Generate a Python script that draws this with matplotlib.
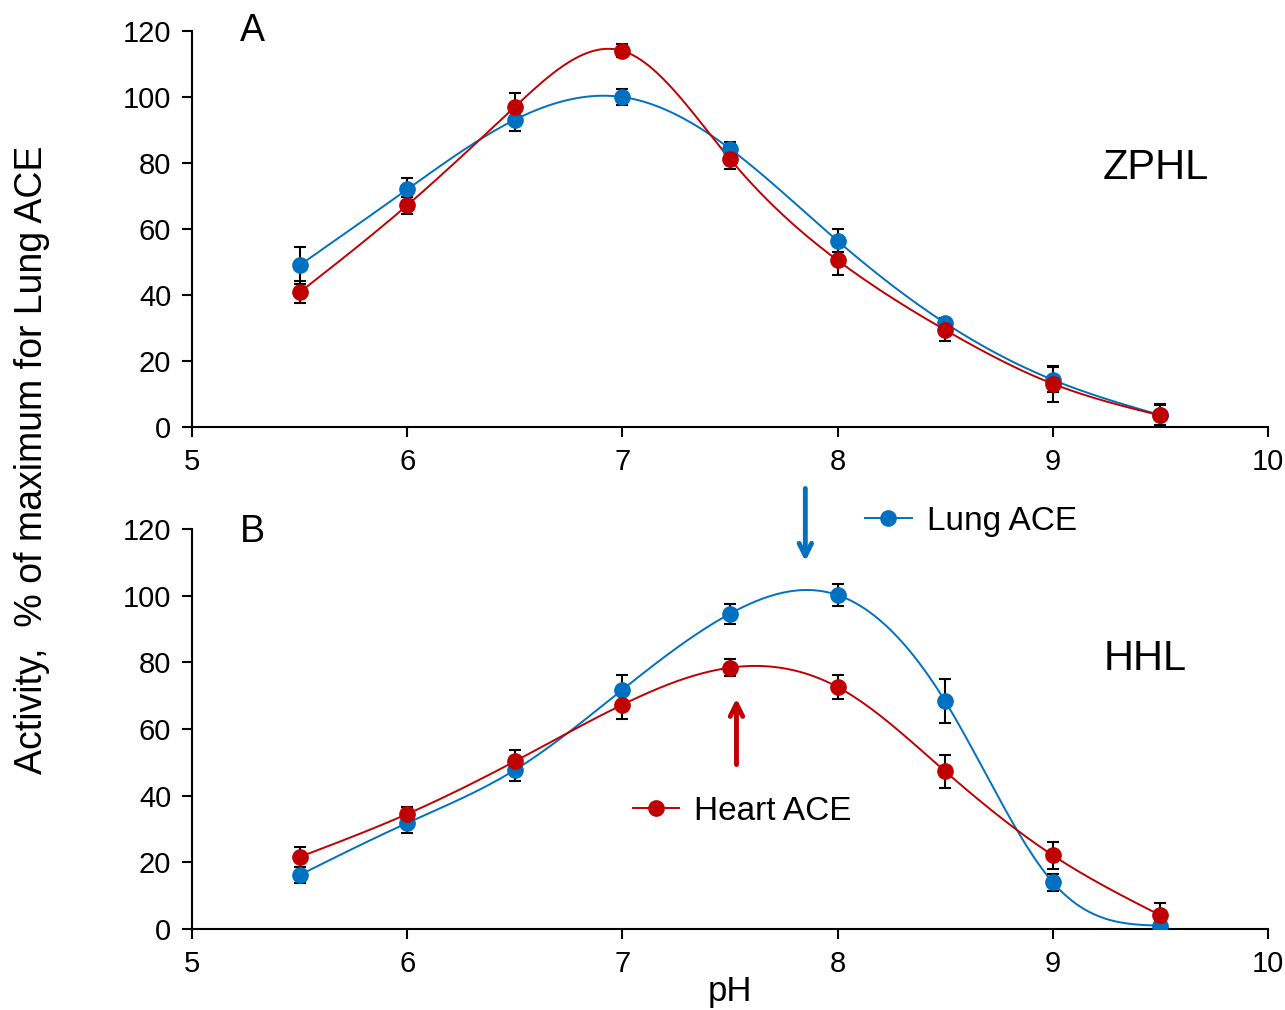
import numpy as np
import matplotlib
matplotlib.use('Agg')
import matplotlib.pyplot as plt
from matplotlib.lines import Line2D

plt.rcParams['font.family'] = ['Liberation Sans', 'DejaVu Sans']

# pH values
ph = [5.5, 6.0, 6.5, 7.0, 7.5, 8.0, 8.5, 9.0, 9.5]

# panel A - ZPHL substrate
lung_zphl = [49.0, 72.0, 93.1, 100.0, 84.3, 56.4, 31.5, 14.3, 3.6]
lung_zphl_err = [5.6, 3.6, 3.3, 2.4, 2.0, 3.5, 1.5, 3.8, 3.0]
heart_zphl = [40.8, 67.2, 97.0, 114.0, 81.2, 50.5, 29.4, 13.1, 3.5]
heart_zphl_err = [3.3, 2.5, 4.3, 2.0, 3.0, 4.5, 3.4, 5.5, 3.5]

# panel B - HHL substrate
lung_hhl = [16.2, 31.8, 47.7, 71.8, 94.6, 100.2, 68.3, 14.0, 1.0]
lung_hhl_err = [2.5, 3.1, 3.3, 4.4, 3.0, 3.3, 6.6, 2.5, 1.0]
heart_hhl = [21.6, 34.5, 50.3, 67.3, 78.4, 72.6, 47.3, 22.1, 4.1]
heart_hhl_err = [3.0, 2.0, 3.5, 4.4, 2.5, 3.5, 5.0, 4.0, 3.6]

blue = '#0070C0'
red = '#C00000'


def natural_spline(x, y, num=400):
    # plain natural cubic spline through the points (smoothed line)
    x = np.asarray(x, float)
    y = np.asarray(y, float)
    n = len(x)
    h = np.diff(x)
    A = np.zeros((n, n))
    r = np.zeros(n)
    A[0, 0] = 1
    A[-1, -1] = 1
    for i in range(1, n - 1):
        A[i, i - 1] = h[i - 1]
        A[i, i] = 2 * (h[i - 1] + h[i])
        A[i, i + 1] = h[i]
        r[i] = 3 * ((y[i + 1] - y[i]) / h[i] - (y[i] - y[i - 1]) / h[i - 1])
    c = np.linalg.solve(A, r)
    b = (y[1:] - y[:-1]) / h - h * (2 * c[:-1] + c[1:]) / 3
    d = (c[1:] - c[:-1]) / (3 * h)
    xs = np.linspace(x[0], x[-1], num)
    idx = np.clip(np.searchsorted(x, xs) - 1, 0, n - 2)
    dx = xs - x[idx]
    ys = y[idx] + b[idx] * dx + c[idx] * dx ** 2 + d[idx] * dx ** 3
    return xs, ys


def draw_series(ax, y, err, color):
    xs, ys = natural_spline(ph, y)
    ax.plot(xs, ys, color=color, lw=1.4, zorder=2)
    ax.errorbar(ph, y, yerr=err, fmt='none', ecolor='black', elinewidth=1.5,
                capsize=4, capthick=1.5, zorder=3)
    ax.plot(ph, y, 'o', color=color, ms=11, zorder=4)


def style_axes(ax):
    ax.set_xlim(5, 10)
    ax.set_ylim(0, 120)
    ax.set_xticks([5, 6, 7, 8, 9, 10])
    ax.set_yticks(range(0, 121, 20))
    ax.spines['top'].set_visible(False)
    ax.spines['right'].set_visible(False)
    ax.spines['left'].set_linewidth(1.5)
    ax.spines['bottom'].set_linewidth(1.5)
    ax.tick_params(direction='out', length=7, width=1.5, labelsize=21, pad=8)


fig = plt.figure(figsize=(12.85, 10.10), dpi=100)
ax1 = fig.add_axes([0.1494, 0.5772, 0.8374, 0.3921])
ax2 = fig.add_axes([0.1494, 0.0802, 0.8374, 0.3960])

draw_series(ax1, lung_zphl, lung_zphl_err, blue)
draw_series(ax1, heart_zphl, heart_zphl_err, red)
draw_series(ax2, lung_hhl, lung_hhl_err, blue)
draw_series(ax2, heart_hhl, heart_hhl_err, red)

for ax in (ax1, ax2):
    style_axes(ax)

ax1.text(5.28, 120, 'A', fontsize=27, ha='center', va='center')
ax2.text(5.28, 119, 'B', fontsize=27, ha='center', va='center')
ax1.text(9.48, 78.5, 'ZPHL', fontsize=30, ha='center', va='center')
ax2.text(9.43, 81, 'HHL', fontsize=30, ha='center', va='center')

# peak arrows
ax2.annotate('', xy=(7.85, 109.5), xytext=(7.85, 133),
             arrowprops=dict(arrowstyle='->,head_length=0.9,head_width=0.45',
                             color=blue, lw=3.5), annotation_clip=False)
ax2.annotate('', xy=(7.53, 70), xytext=(7.53, 48.5),
             arrowprops=dict(arrowstyle='->,head_length=0.9,head_width=0.45',
                             color=red, lw=3.5), annotation_clip=False)

# legends placed next to the arrows
lung_h = Line2D([], [], color=blue, marker='o', ms=11, lw=1.4)
heart_h = Line2D([], [], color=red, marker='o', ms=11, lw=1.4)
leg1 = ax2.legend(handles=[lung_h], labels=['Lung ACE'], loc='center left',
                  bbox_to_anchor=(0.613, 1.02), frameon=False, fontsize=24,
                  handlelength=1.4, handletextpad=0.45, borderaxespad=0)
ax2.add_artist(leg1)
ax2.legend(handles=[heart_h], labels=['Heart ACE'], loc='center left',
           bbox_to_anchor=(0.397, 0.295), frameon=False, fontsize=24,
           handlelength=1.4, handletextpad=0.45, borderaxespad=0)

ax2.set_xlabel('pH', fontsize=25, labelpad=-2)
fig.text(0.025, 0.545, 'Activity,  % of maximum for Lung ACE', fontsize=27,
         rotation=90, ha='center', va='center')

fig.savefig('out.png', dpi=100)
